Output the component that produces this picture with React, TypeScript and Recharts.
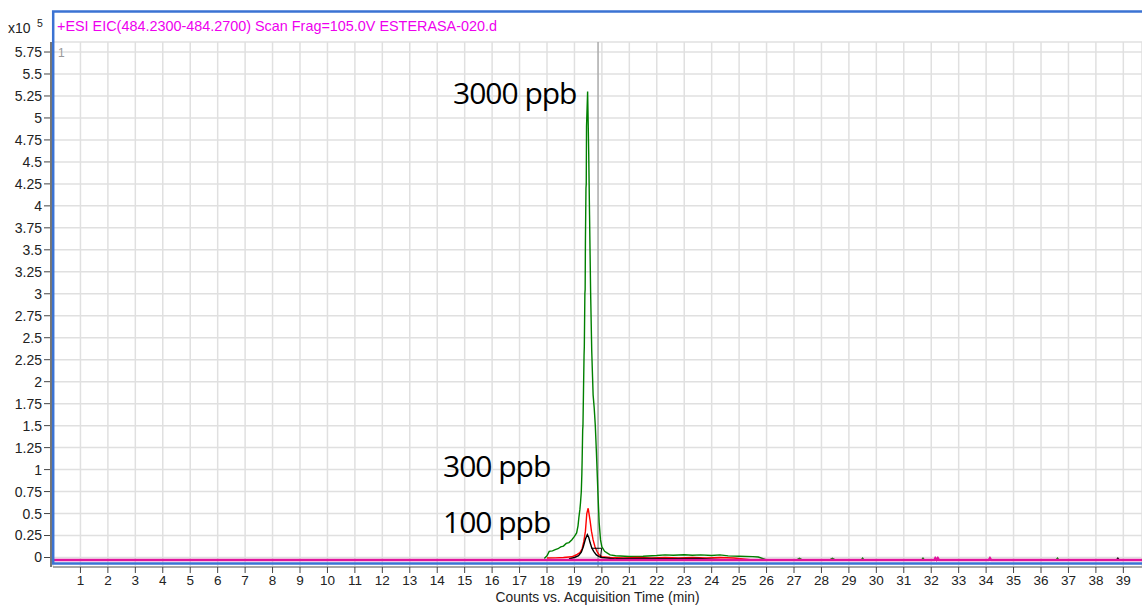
import React from 'react';
import { LineChart, Line, XAxis, YAxis, CartesianGrid, ReferenceLine } from 'recharts';

// ---- data ----
const xTicks = [1, 2, 3, 4, 5, 6, 7, 8, 9, 10, 11, 12, 13, 14, 15, 16, 17, 18, 19, 20, 21, 22, 23, 24, 25, 26, 27, 28, 29, 30, 31, 32, 33, 34, 35, 36, 37, 38, 39];
const yTicks = [0, 0.25, 0.5, 0.75, 1, 1.25, 1.5, 1.75, 2, 2.25, 2.5, 2.75, 3, 3.25, 3.5, 3.75, 4, 4.25, 4.5, 4.75, 5, 5.25, 5.5, 5.75];

// retention time (min), counts (x10^5); null = gap in trace
const green3000: [number, number | null][] = [
  [17.9, -0.01], [18.0, 0.02], [18.08, 0.07], [18.2, 0.075], [18.3, 0.09], [18.4, 0.1], [18.5, 0.12],
  [18.6, 0.13], [18.7, 0.16], [18.8, 0.17], [18.9, 0.2], [19.0, 0.24], [19.08, 0.28], [19.13, 0.36],
  [19.16, 0.45], [19.2, 0.55], [19.22, 0.62], [19.25, 0.75], [19.27, 0.95], [19.28, 1.1], [19.3, 1.45],
  [19.31, 1.5], [19.33, 1.9], [19.35, 2.3], [19.36, 2.4], [19.38, 3.0], [19.39, 3.05], [19.4, 3.6],
  [19.42, 4.2], [19.43, 4.25], [19.44, 4.9], [19.48, 5.3], [19.52, 4.6], [19.55, 3.9], [19.59, 3.0],
  [19.63, 2.35], [19.66, 2.05], [19.68, 1.85], [19.72, 1.7], [19.76, 1.5], [19.8, 1.2], [19.86, 0.7],
  [19.9, 0.4], [19.95, 0.2], [20.0, 0.12], [20.1, 0.07], [20.2, 0.05], [20.3, 0.03], [20.5, 0.02],
  [21.0, 0.012], [21.5, 0.015], [22.0, 0.022], [22.3, 0.03], [22.6, 0.025], [23.0, 0.032], [23.3, 0.026],
  [23.6, 0.03], [24.0, 0.022], [24.3, 0.03], [24.6, 0.018], [25.0, 0.014], [25.5, 0.01], [25.7, 0.006],
  [26.0, -0.027], [27.1, -0.027], [27.2, -0.008], [27.3, -0.027], [28.3, -0.027], [28.4, -0.008],
  [28.5, -0.027], [29.45, -0.027], [29.5, -0.008], [29.55, -0.027], [31.65, -0.027], [31.7, -0.008],
  [31.75, -0.027], [36.55, -0.027], [36.6, -0.008], [36.65, -0.027], [37.0, -0.027],
];

const red300: [number, number | null][] = [
  [18.0, -0.006], [18.3, -0.004], [18.6, 0.0], [18.9, 0.008], [19.0, 0.02], [19.1, 0.035], [19.2, 0.055],
  [19.28, 0.1], [19.34, 0.18], [19.4, 0.3], [19.45, 0.5], [19.5, 0.56], [19.53, 0.5], [19.57, 0.42],
  [19.62, 0.3], [19.68, 0.2], [19.75, 0.12], [19.82, 0.07], [19.9, 0.03], [20.0, 0.01], [20.3, 0.0],
  [20.8, -0.006], [21.3, 0.0], [21.8, -0.006], [22.3, 0.0], [22.8, -0.006], [23.3, 0.0], [23.8, -0.006],
  [24.3, 0.0], [24.8, -0.006], [25.5, -0.027],
];

const black100: [number, number | null][] = [
  [18.8, -0.015], [19.0, 0.0], [19.15, 0.02], [19.25, 0.06], [19.32, 0.12], [19.4, 0.21], [19.47, 0.26],
  [19.52, 0.23], [19.57, 0.17], [19.63, 0.11], [19.7, 0.07], [19.8, 0.03], [19.9, 0.01], [20.0, 0.0],
  [20.5, -0.015], [21.5, -0.01], [22.5, -0.015], [23.5, -0.01], [24.5, -0.027], [24.6, null],
  [38.75, -0.027], [38.8, -0.008], [38.85, -0.027],
];

const blackMarker: [number, number][] = [
  [19.62, 0.105], [19.99, 0.105], [19.95, 0.0],
];

const magentaBase: [number, number][] = [
  [0, -0.027], [32.12, -0.027], [32.15, -0.008], [32.2, -0.027], [32.24, -0.008], [32.28, -0.027],
  [34.1, -0.027], [34.14, -0.008], [34.18, -0.027], [39.68, -0.027],
];

const toRows = (pts: [number, number | null][]) => pts.map(([x, y]) => ({ x, y }));

const tickFont = { fontFamily: '"Liberation Sans", Arial, sans-serif', fill: '#222' };

export default function App() {
  return (
    <div style={{ position: 'absolute', left: 0, top: 0, width: 1142, height: 607, background: '#fff', overflow: 'hidden' }}>
      <LineChart width={1142} height={607} margin={{ top: 42, right: 0, bottom: 0, left: 0 }}>
        <CartesianGrid stroke="#e0e0e0" strokeWidth={1.5} />
        <XAxis
          type="number"
          dataKey="x"
          domain={[0, 39.68]}
          ticks={xTicks}
          allowDataOverflow
          height={40}
          stroke="#666"
          tickLine={{ stroke: '#444' }}
          tickSize={6}
          tickMargin={2}
          tick={{ ...tickFont, fontSize: 13.5 }}
          interval={0}
          label={{ value: 'Counts vs. Acquisition Time (min)', position: 'insideBottom', offset: 5, style: { ...tickFont, fontSize: 13.8 } }}
        />
        <YAxis
          type="number"
          domain={[-0.108, 5.864]}
          ticks={yTicks}
          allowDataOverflow
          width={53}
          axisLine={false}
          tickLine={{ stroke: '#444' }}
          tickSize={9}
          tickMargin={2}
          tick={{ ...tickFont, fontSize: 14 }}
          interval={0}
        />
        <ReferenceLine x={19.86} stroke="#aaa" strokeWidth={1.5} />
        <Line data={toRows(green3000)} dataKey="y" stroke="#008000" strokeWidth={1.4} dot={false} isAnimationActive={false} />
        <Line data={toRows(red300)} dataKey="y" stroke="#ff0000" strokeWidth={1.4} dot={false} isAnimationActive={false} />
        <Line data={toRows(black100)} dataKey="y" stroke="#000" strokeWidth={1.4} dot={false} isAnimationActive={false} />
        <Line data={toRows(blackMarker)} dataKey="y" stroke="#000" strokeWidth={1} dot={false} isAnimationActive={false} />
        <Line data={toRows(magentaBase)} dataKey="y" stroke="#e0139c" strokeWidth={2.5} dot={false} isAnimationActive={false} />
      </LineChart>
      <svg width={1142} height={607} style={{ position: 'absolute', left: 0, top: 0, pointerEvents: 'none' }}>
        <line x1={51} y1={42} x2={51} y2={567} stroke="#777" strokeWidth={2} />
        <rect x={53.2} y={11.5} width={1100} height={552} fill="none" stroke="#3b73d3" strokeWidth={2.5} />
        <text x={57} y={31} fontFamily='"Liberation Sans", Arial, sans-serif' fontSize={14.4} fill="#ee00ee">
          +ESI EIC(484.2300-484.2700) Scan Frag=105.0V ESTERASA-020.d
        </text>
        <text x={8} y={33} fontFamily='"Liberation Sans", Arial, sans-serif' fontSize={14} fill="#222">x10</text>
        <text x={37} y={27} fontFamily='"Liberation Sans", Arial, sans-serif' fontSize={10.5} fill="#222">5</text>
        <text x={58} y={57} fontFamily='"Liberation Sans", Arial, sans-serif' fontSize={12} fill="#999">1</text>
        <g fontFamily='"Open Sans", sans-serif' fontSize={30} letterSpacing={-1} fill="#000">
          <text x={453} y={104}>3000 ppb</text>
          <text x={443} y={477}>300 ppb</text>
          <text x={443} y={533}>100 ppb</text>
        </g>
      </svg>
    </div>
  );
}
